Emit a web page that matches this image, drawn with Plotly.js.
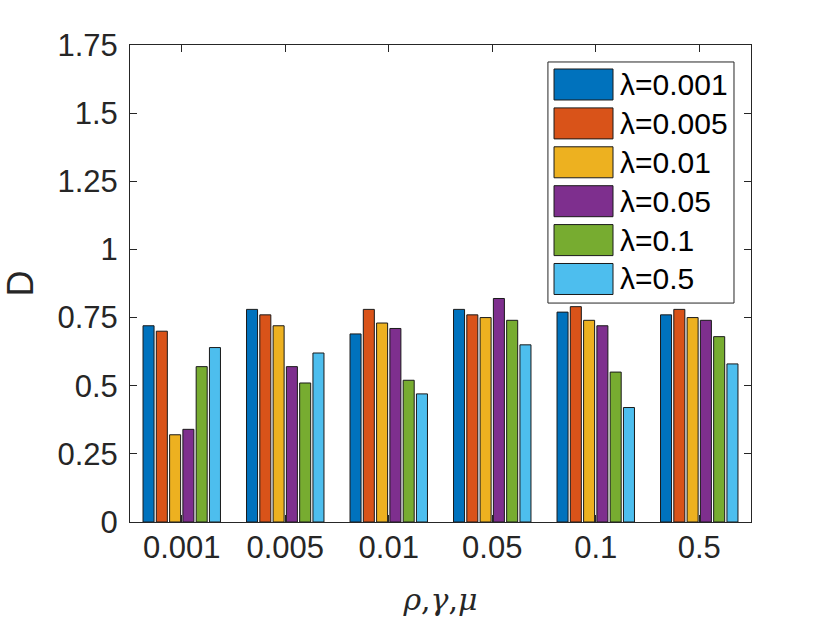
<!DOCTYPE html>
<html>
<head>
<meta charset="utf-8">
<script src="https://cdn.plot.ly/plotly-3.0.1.min.js"></script>
<style>html,body{margin:0;padding:0;background:#fff;}#chart{width:830px;height:623px;}</style>
</head>
<body>
<div id="chart"></div>
<script>
// Categories (rho, gamma, mu)
const categories = ['0.001', '0.005', '0.01', '0.05', '0.1', '0.5'];
// Series names (lambda)
const seriesNames = ['λ=0.001', 'λ=0.005', 'λ=0.01', 'λ=0.05', 'λ=0.1', 'λ=0.5'];
const seriesColors = ['#0072BD', '#D95319', '#EDB120', '#7E2F8E', '#77AC30', '#4DBEEE'];
// Values per series, one per category
const lambda0001 = [0.72, 0.78, 0.69, 0.78, 0.77, 0.76];
const lambda0005 = [0.70, 0.76, 0.78, 0.76, 0.79, 0.78];
const lambda001  = [0.32, 0.72, 0.73, 0.75, 0.74, 0.75];
const lambda005  = [0.34, 0.57, 0.71, 0.82, 0.72, 0.74];
const lambda01   = [0.57, 0.51, 0.52, 0.74, 0.55, 0.68];
const lambda05   = [0.64, 0.62, 0.47, 0.65, 0.42, 0.58];
const yTickVals = [0, 0.25, 0.5, 0.75, 1, 1.25, 1.5, 1.75];
const yTickText = ['0', '0.25', '0.5', '0.75', '1', '1.25', '1.5', '1.75'];

const seriesValues = [lambda0001, lambda0005, lambda001, lambda005, lambda01, lambda05];
const axisColor = '#262626';
const font = "'Liberation Sans', Arial, Helvetica, sans-serif";

const traces = seriesValues.map((vals, i) => ({
  type: 'bar',
  x: categories,
  y: vals,
  name: seriesNames[i],
  marker: {color: seriesColors[i], line: {color: '#1a1a1a', width: 1}},
  showlegend: false,
  hoverinfo: 'none'
}));

// Custom legend (MATLAB style, large swatches)
const shapes = [];
const annotations = [];
const legX0 = 0.673, legX1 = 0.9726, legY0 = 0.459, legY1 = 0.9644;
shapes.push({type: 'rect', xref: 'paper', yref: 'paper', x0: legX0, x1: legX1, y0: legY0, y1: legY1,
  line: {color: axisColor, width: 1}, fillcolor: '#ffffff', layer: 'above'});
const firstY = 0.9172, stepY = 0.08155, halfH = 0.0325;
seriesNames.forEach((nm, i) => {
  const cy = firstY - i * stepY;
  shapes.push({type: 'rect', xref: 'paper', yref: 'paper', x0: 0.6828, x1: 0.7778, y0: cy - halfH, y1: cy + halfH,
    line: {color: '#1a1a1a', width: 1}, fillcolor: seriesColors[i], layer: 'above'});
  annotations.push({xref: 'paper', yref: 'paper', x: 0.7855, y: cy, xanchor: 'left', yanchor: 'middle',
    text: nm, showarrow: false, font: {family: font, size: 30, color: '#000000'}});
});

const layout = {
  width: 830, height: 623,
  margin: {l: 130, r: 79, t: 45, b: 101},
  paper_bgcolor: '#ffffff', plot_bgcolor: '#ffffff',
  barmode: 'group', bargap: 0.23, bargroupgap: 0.17,
  font: {family: font, color: axisColor},
  xaxis: {
    type: 'category',
    range: [-0.5, 5.5],
    showline: true, linecolor: axisColor, linewidth: 1, mirror: 'ticks',
    ticks: 'inside', ticklen: 7, tickcolor: axisColor, tickwidth: 1,
    showgrid: false, zeroline: false,
    tickfont: {family: font, size: 31, color: axisColor},
    ticklabelstandoff: -2,
    title: {text: '<i>ρ</i>,<i>γ</i>,<i>μ</i>', font: {family: "'DejaVu Serif', 'Liberation Serif', serif", size: 30, color: axisColor}, standoff: 24}
  },
  yaxis: {
    range: [0, 1.75],
    tickvals: yTickVals, ticktext: yTickText,
    showline: true, linecolor: axisColor, linewidth: 1, mirror: 'ticks',
    ticks: 'inside', ticklen: 7, tickcolor: axisColor, tickwidth: 1,
    showgrid: false, zeroline: false,
    tickfont: {family: font, size: 31, color: axisColor},
    ticklabelstandoff: 5,
    title: {text: 'D', font: {family: font, size: 36, color: axisColor}, standoff: 16}
  },
  shapes: shapes,
  annotations: annotations,
  showlegend: false
};

Plotly.newPlot('chart', traces, layout, {staticPlot: true, displayModeBar: false});
</script>
</body>
</html>
